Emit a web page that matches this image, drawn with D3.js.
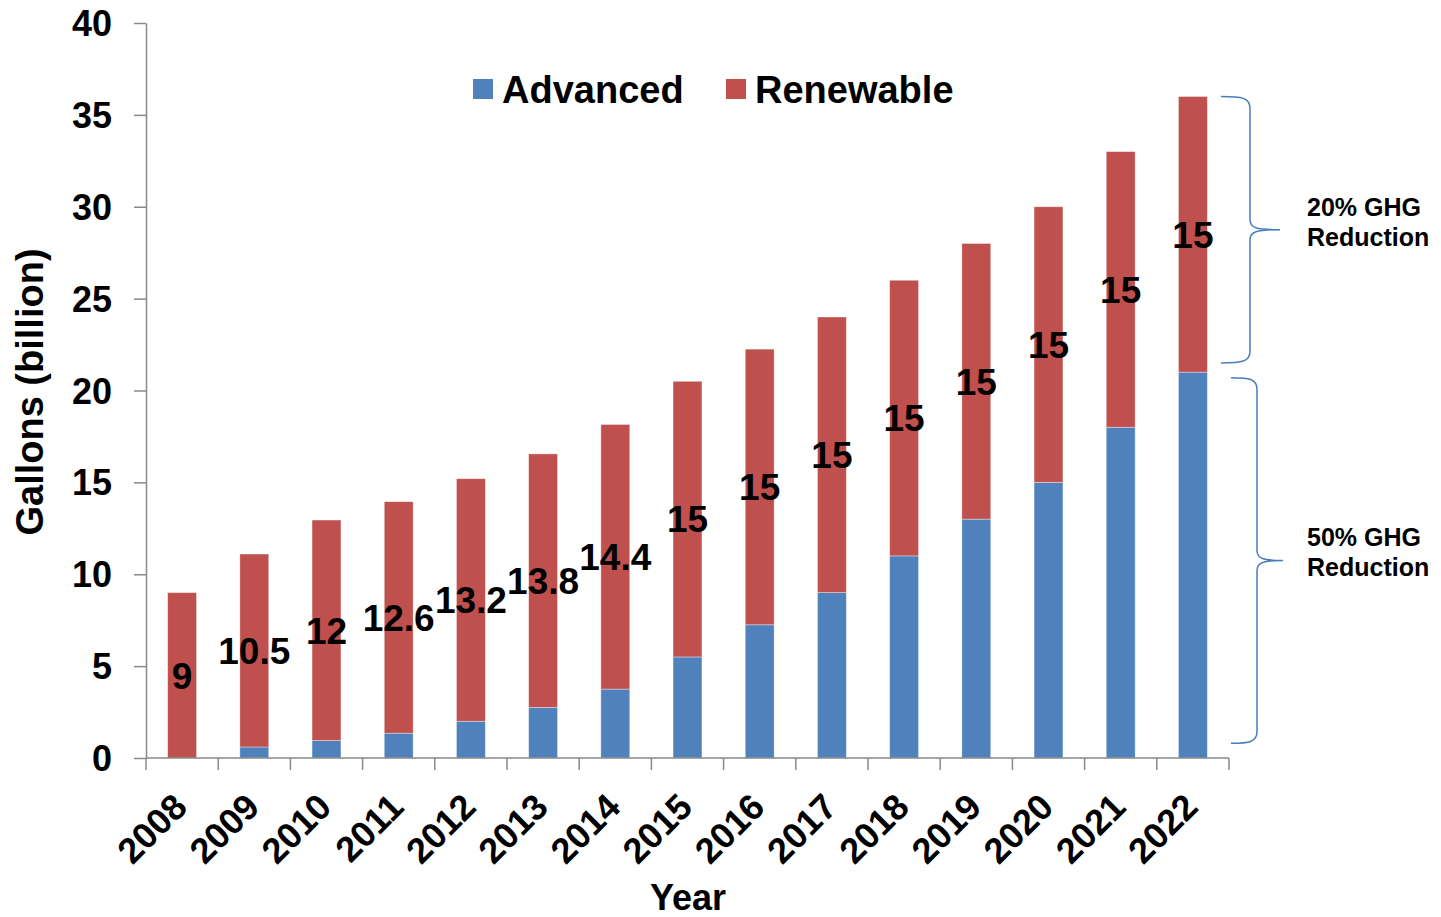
<!DOCTYPE html>
<html>
<head>
<meta charset="utf-8">
<script src="https://cdn.jsdelivr.net/npm/d3@7"></script>
<style>
  html, body { margin: 0; padding: 0; background: #fff; }
  svg { display: block; }
  text { font-family: "Liberation Sans", Arial, sans-serif; font-weight: bold; fill: #000; }
</style>
</head>
<body>
<svg id="chart" width="1441" height="917"></svg>
<script>
// Renewable fuel volumes by year (billion gallons)
const years = ["2008","2009","2010","2011","2012","2013","2014","2015","2016","2017","2018","2019","2020","2021","2022"];
const advanced  = [0, 0.6, 0.95, 1.35, 2.0, 2.75, 3.75, 5.5, 7.25, 9.0, 11.0, 13.0, 15.0, 18.0, 21.0];
const renewable = [9, 10.5, 12, 12.6, 13.2, 13.8, 14.4, 15, 15, 15, 15, 15, 15, 15, 15];
const yTicks = [0, 5, 10, 15, 20, 25, 30, 35, 40];
const seriesNames = ["Advanced", "Renewable"];
const colors = { Advanced: "#4F81BD", Renewable: "#C0504D" };

// Bracketed annotations: [low, high, label lines]
const braces = [
  { lo: 21.5, hi: 36.0, lines: ["20% GHG", "Reduction"] },
  { lo: 0.8,  hi: 20.7, lines: ["50% GHG", "Reduction"] }
];

const svg = d3.select("#chart");
const axisColor = "#898989";

const x = d3.scaleBand().domain(years).range([146, 1229]).paddingInner(0).paddingOuter(0);
const y = d3.scaleLinear().domain([0, 40]).range([758, 23]);
const barW = x.bandwidth() * 0.4;

const rows = years.map((yr, i) => ({ year: yr, Advanced: advanced[i], Renewable: renewable[i] }));
const stacked = d3.stack().keys(seriesNames)(rows);

// Stacked bars
const g = svg.append("g");
stacked.forEach(layer => {
  g.selectAll(null).data(layer).join("rect")
    .attr("x", d => x(d.data.year) + (x.bandwidth() - barW) / 2)
    .attr("y", d => y(d[1]))
    .attr("width", barW)
    .attr("height", d => y(d[0]) - y(d[1]))
    .attr("fill", colors[layer.key])
    .attr("stroke", "#ffffff")
    .attr("stroke-opacity", 0.45)
    .attr("stroke-width", 0.8);
});

// Y axis
const yAxis = d3.axisLeft(y).tickValues(yTicks).tickSize(12).tickSizeOuter(0).tickPadding(22).tickFormat(d3.format("d"));
const yg = svg.append("g").attr("transform", "translate(146,0)").call(yAxis);
yg.select(".domain").attr("stroke", axisColor).attr("stroke-width", 1.5);
yg.selectAll(".tick line").attr("stroke", axisColor).attr("stroke-width", 1.5);
yg.selectAll(".tick text")
  .attr("dy", "0.35em")
  .style("font-family", "'Liberation Sans', Arial, sans-serif")
  .style("font-weight", "bold")
  .style("font-size", "36px")
  .attr("fill", "#000");

// X axis line with ticks at category boundaries
const xg = svg.append("g");
xg.append("line")
  .attr("x1", x.range()[0]).attr("x2", x.range()[1])
  .attr("y1", y(0)).attr("y2", y(0))
  .attr("stroke", axisColor).attr("stroke-width", 1.5);
const bounds = years.map(yr => x(yr)).concat([x.range()[1]]);
xg.selectAll(null).data(bounds).join("line")
  .attr("x1", d => d).attr("x2", d => d)
  .attr("y1", y(0)).attr("y2", y(0) + 12)
  .attr("stroke", axisColor).attr("stroke-width", 1.5);
xg.selectAll(null).data(years).join("text")
  .attr("transform", d => `translate(${x(d) + x.bandwidth() / 2 + 7},${y(0) + 51}) rotate(-45)`)
  .attr("text-anchor", "end")
  .style("font-size", "36px")
  .text(d => d);

// Value labels centred in the renewable segment
svg.append("g").selectAll(null).data(stacked[1]).join("text")
  .attr("x", d => x(d.data.year) + x.bandwidth() / 2)
  .attr("y", d => y((d[0] + d[1]) / 2))
  .attr("dy", "0.36em")
  .attr("text-anchor", "middle")
  .style("font-size", "37px")
  .text(d => d3.format("~g")(d.data.Renewable));

// Axis titles
svg.append("text")
  .attr("transform", "translate(43,392) rotate(-90)")
  .attr("text-anchor", "middle")
  .style("font-size", "38px")
  .text("Gallons (billion)");
svg.append("text")
  .attr("x", 688).attr("y", 910)
  .attr("text-anchor", "middle")
  .style("font-size", "36px")
  .text("Year");

// Legend
const legend = svg.append("g");
const legendItems = [
  { name: "Advanced", sx: 473 },
  { name: "Renewable", sx: 726 }
];
legendItems.forEach(it => {
  legend.append("rect").attr("x", it.sx).attr("y", 79).attr("width", 20).attr("height", 20).attr("fill", colors[it.name]);
  legend.append("text").attr("x", it.sx + 29).attr("y", 103).style("font-size", "38px").text(it.name);
});

// Curly braces with annotation text
function bracePath(xe, xs, xt, yTop, yBot, yMid) {
  return `M${xe},${yTop}` +
    `C${xs - 8},${yTop} ${xs},${yTop + 1} ${xs},${yTop + 12}` +
    `L${xs},${yMid - 10}` +
    `C${xs},${yMid - 2} ${xs + 6},${yMid} ${xt},${yMid}` +
    `C${xs + 6},${yMid} ${xs},${yMid + 2} ${xs},${yMid + 10}` +
    `L${xs},${yBot - 12}` +
    `C${xs},${yBot - 1} ${xs - 8},${yBot} ${xe},${yBot}`;
}
const braceGeom = [
  { xe: 1221, xs: 1250, xt: 1280 },
  { xe: 1231, xs: 1257, xt: 1283 }
];
braces.forEach((b, i) => {
  const gm = braceGeom[i];
  const yTop = y(b.hi), yBot = y(b.lo);
  const yMid = (yTop + yBot) / 2;
  svg.append("path")
    .attr("d", bracePath(gm.xe, gm.xs, gm.xt, yTop, yBot, yMid))
    .attr("fill", "none")
    .attr("stroke", "#4A7EBB")
    .attr("stroke-width", 1.5);
  const t = svg.append("text").attr("x", 1307).attr("y", yMid - 14).style("font-size", "25px");
  b.lines.forEach((ln, j) => {
    t.append("tspan").attr("x", 1307).attr("dy", j === 0 ? 0 : 30).text(ln);
  });
});
</script>
</body>
</html>
